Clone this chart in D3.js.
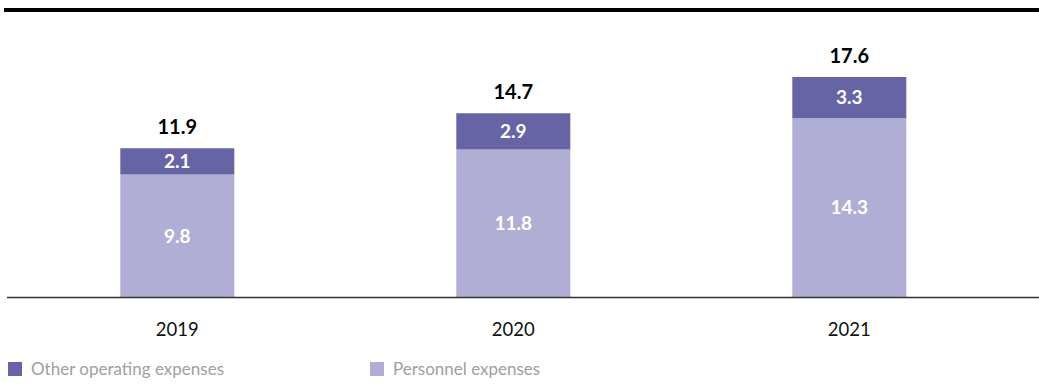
<!DOCTYPE html>
<html>
<head>
<meta charset="utf-8">
<script src="https://cdn.jsdelivr.net/npm/d3@7"></script>
<style>
  html, body { margin: 0; padding: 0; background: #fff; }
  svg { display: block; font-family: Lato, "Open Sans", sans-serif; }
</style>
</head>
<body>
<svg id="chart" width="1039" height="388"></svg>
<script>
// Operating expenses by year, stacked: personnel at the bottom, other on top
const years = ["2019", "2020", "2021"];
const personnel = [9.8, 11.8, 14.3];
const other = [2.1, 2.9, 3.3];
const totals = [11.9, 14.7, 17.6];
const seriesNames = ["Other operating expenses", "Personnel expenses"];

const colors = { other: "#6664a5", personnel: "#b0aed4" };

const svg = d3.select("#chart");
const W = 1039;
const baseY = 297;

// top rule
svg.append("rect").attr("x", 4).attr("y", 8).attr("width", W - 4).attr("height", 4).attr("fill", "#000");

const x = d3.scaleBand().domain(years).range([9.3, 1017.3]).paddingInner(0.66).paddingOuter(0.33);
const y = d3.scaleLinear().domain([0, 17.6]).range([baseY, 77]);

const rows = years.map((yr, i) => ({ year: yr, personnel: personnel[i], other: other[i], total: totals[i] }));
const stack = d3.stack().keys(["personnel", "other"]);
const layers = stack(rows);

const bw = 114;
const cx = d => x(d.data.year) + x.bandwidth() / 2;

layers.forEach(layer => {
  const g = svg.append("g");
  g.selectAll("rect").data(layer).join("rect")
    .attr("x", d => cx(d) - bw / 2)
    .attr("width", bw)
    .attr("y", d => y(d[1]))
    .attr("height", d => y(d[0]) - y(d[1]))
    .attr("fill", colors[layer.key]);
  g.selectAll("text").data(layer).join("text")
    .attr("x", d => cx(d))
    .attr("y", d => (y(d[0]) + y(d[1])) / 2)
    .attr("dy", "0.36em")
    .attr("text-anchor", "middle")
    .attr("fill", "#fff")
    .attr("font-weight", 700)
    .attr("font-size", 19)
    .text(d => d.data[layer.key].toFixed(1));
});

// totals above bars
svg.append("g").selectAll("text").data(rows).join("text")
  .attr("x", d => x(d.year) + x.bandwidth() / 2)
  .attr("y", d => y(d.total) - 21)
  .attr("dy", "0.36em")
  .attr("text-anchor", "middle")
  .attr("fill", "#000")
  .attr("font-weight", 700)
  .attr("font-size", 20)
  .text(d => d.total.toFixed(1));

// baseline
svg.append("line").attr("x1", 7).attr("x2", W).attr("y1", baseY + 0.5).attr("y2", baseY + 0.5)
  .attr("stroke", "#333").attr("stroke-width", 1.5);

// year axis
const axis = svg.append("g").attr("transform", `translate(0,${baseY})`)
  .call(d3.axisBottom(x).tickSize(0).tickPadding(26));
axis.select(".domain").remove();
axis.selectAll("text").attr("font-size", 18.5).attr("fill", "#111")
  .attr("font-family", "Lato, 'Open Sans', sans-serif");

// legend
const legend = svg.append("g").attr("transform", "translate(8,362)");
const legendItems = [
  { name: seriesNames[0], color: colors.other, x: 0 },
  { name: seriesNames[1], color: colors.personnel, x: 362 }
];
legendItems.forEach(it => {
  const g = legend.append("g").attr("transform", `translate(${it.x},0)`);
  g.append("rect").attr("width", 14).attr("height", 14).attr("fill", it.color);
  g.append("text").attr("x", 23).attr("y", 7).attr("dy", "0.36em")
    .attr("font-size", 17).attr("fill", "#a0a0a0").text(it.name);
});
</script>
</body>
</html>
